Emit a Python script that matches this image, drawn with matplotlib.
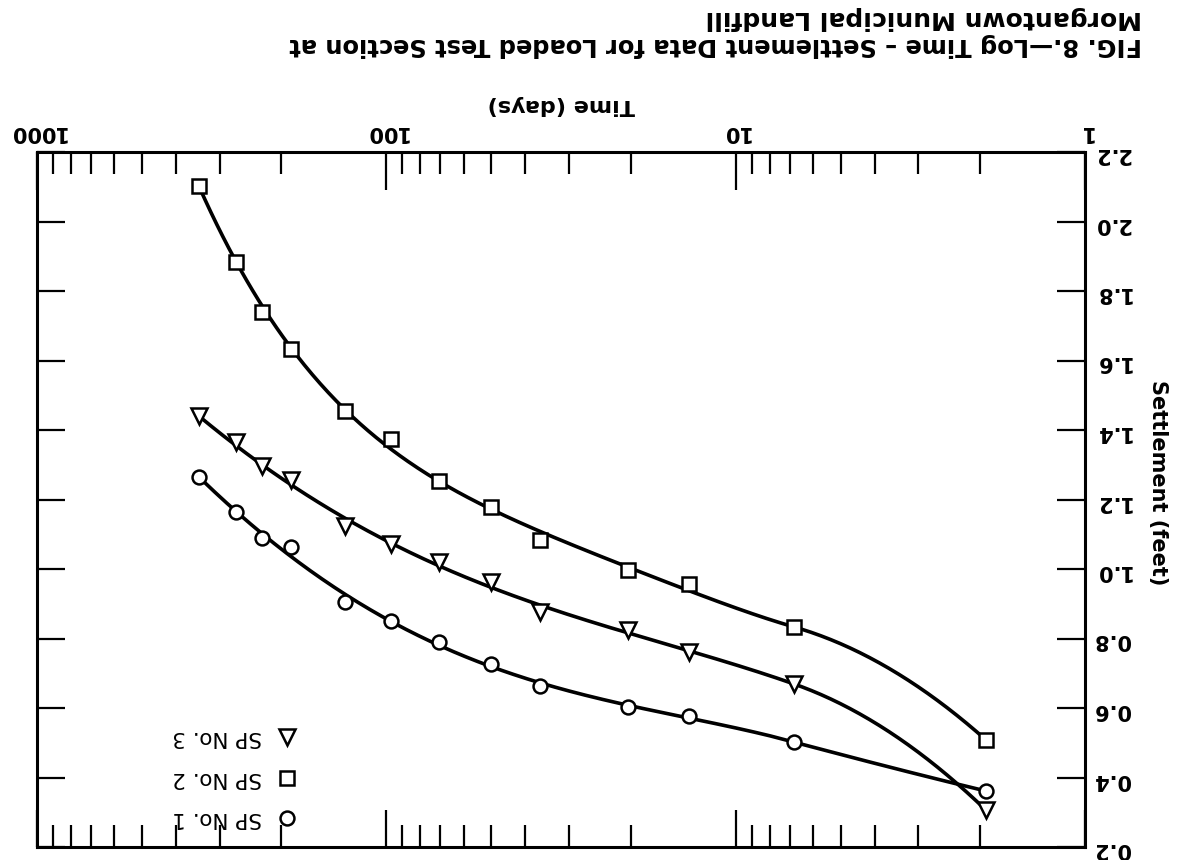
import numpy as np
import matplotlib
matplotlib.use("Agg")
import matplotlib.pyplot as plt
from matplotlib.ticker import NullFormatter, FixedLocator, LogLocator

# ---------------- data ----------------
time_days = [1.92, 6.8, 13.6, 20.3, 36.3, 50.2, 70.7, 97, 131, 188, 227, 269, 344]
sp1 = [0.361, 0.502, 0.577, 0.603, 0.663, 0.727, 0.790, 0.850, 0.905, 1.063, 1.089, 1.164, 1.265]
sp2 = [0.508, 0.833, 0.957, 0.997, 1.083, 1.178, 1.253, 1.374, 1.455, 1.633, 1.740, 1.883, 2.102]
sp3 = [0.306, 0.669, 0.761, 0.824, 0.876, 0.963, 1.020, 1.072, 1.124, 1.256, 1.296, 1.365, 1.440]
series_names = ["SP No. 1", "SP No. 2", "SP No. 3"]
x_ticks = [1, 10, 100, 1000]
x_tick_labels = ["1", "10", "100", "1000"]
y_ticks = [0.2, 0.4, 0.6, 0.8, 1.0, 1.2, 1.4, 1.6, 1.8, 2.0, 2.2]
y_tick_labels = ["0.2", "0.4", "0.6", "0.8", "1.0", "1.2", "1.4", "1.6", "1.8", "2.0", "2.2"]
title_line1 = "FIG. 8.\u2014Log Time \u2013 Settlement Data for Loaded Test Section at"
title_line2 = "Morgantown Municipal Landfill"


def smooth_curve(t, v):
    """Hand-drawn-like trend line: smooth fit over the later readings plus a
    quadratic lead-in segment from the first reading."""
    lx = np.log10(t)
    v = np.asarray(v, float)
    w = np.ones(len(lx) - 1)
    w[0] = w[-1] = 6.0
    coef = np.polyfit(lx[1:], v[1:], 4, w=w)
    dcoef = np.polyder(coef)
    xs_main = np.linspace(lx[1], lx[-1], 300)
    ys_main = np.polyval(coef, xs_main)
    x0, x1 = lx[0], lx[1]
    y0, y1 = v[0], np.polyval(coef, x1)
    m1 = np.polyval(dcoef, x1)
    chord = (y1 - y0) / (x1 - x0)
    m0 = 2 * chord - m1
    s = np.linspace(0, 1, 80)
    h = x1 - x0
    h00 = 2 * s**3 - 3 * s**2 + 1
    h10 = s**3 - 2 * s**2 + s
    h01 = -2 * s**3 + 3 * s**2
    h11 = s**3 - s**2
    xs_lead = x0 + s * h
    ys_lead = h00 * y0 + h10 * h * m0 + h01 * y1 + h11 * h * m1
    xs = np.concatenate([xs_lead, xs_main[1:]])
    ys = np.concatenate([ys_lead, ys_main[1:]])
    return 10 ** xs, ys


plt.rcParams['font.family'] = ['DejaVu Sans']

fig = plt.figure(figsize=(11.84, 8.6), dpi=100)
ax = fig.add_axes([37 / 1184, 1 - 847 / 860, (1085 - 37) / 1184, (847 - 152) / 860])

markers = ['o', 's', 'v']
msizes = [10, 10, 11]
for vals, mk, ms in zip([sp1, sp2, sp3], markers, msizes):
    cx, cy = smooth_curve(time_days, vals)
    ax.plot(cx, cy, color='black', lw=2.6, zorder=2, solid_capstyle='round')
    ax.plot(time_days, vals, linestyle='none', marker=mk, ms=ms, mfc='white',
            mec='black', mew=1.8, zorder=3)

ax.set_xscale('log')
ax.set_xlim(1000, 1)
ax.set_ylim(0.2, 2.2)

ax.xaxis.set_major_locator(FixedLocator(x_ticks))
ax.set_xticklabels(x_tick_labels)
ax.xaxis.set_minor_locator(LogLocator(base=10, subs=np.arange(2, 10)))
ax.xaxis.set_minor_formatter(NullFormatter())
ax.set_yticks(y_ticks)
ax.set_yticklabels(y_tick_labels)

ax.tick_params(axis='x', which='both', direction='in', top=True, bottom=True,
               labeltop=True, labelbottom=False, width=1.6)
ax.tick_params(axis='x', which='major', length=27, pad=7)
ax.tick_params(axis='x', which='minor', length=16)
ax.tick_params(axis='y', which='both', direction='in', left=True, right=True,
               labelleft=False, labelright=True, length=20, width=1.6, pad=6)
ax.tick_params(labelsize=15, labelrotation=180)
for lab in ax.get_xticklabels() + ax.get_yticklabels():
    lab.set_fontweight('bold')

for sp in ax.spines.values():
    sp.set_linewidth(2.2)

ax.xaxis.set_label_position('top')
ax.set_xlabel("Time (days)", fontsize=16, fontweight='bold', rotation=180, labelpad=8)
ax.yaxis.set_label_position('right')
ax.set_ylabel("Settlement (feet)", fontsize=15, fontweight='bold', rotation=270)
ax.yaxis.set_label_coords(1.079, 0.524)

# manual legend (upside-down, like the reference)
leg_x = (287 - 37) / 1048
leg_tx = (262 - 37) / 1048
leg_y = [(847 - 818) / 695, (847 - 778) / 695, (847 - 737) / 695]
for name, mk, ms, yy in zip(series_names, markers, msizes, leg_y):
    ax.plot([leg_x], [yy], transform=ax.transAxes, marker=mk, ms=ms, mfc='white',
            mec='black', mew=1.8, linestyle='none', clip_on=False, zorder=4)
    ax.text(leg_tx, yy, name, transform=ax.transAxes, rotation=180, ha='right',
            va='center', fontsize=15.5)

fig.text(1142 / 1184, 1 - 45 / 860, title_line1, rotation=180, ha='right', va='center',
         fontsize=17.4, fontweight='bold')
fig.text(1142 / 1184, 1 - 18 / 860, title_line2, rotation=180, ha='right', va='center',
         fontsize=18, fontweight='bold')

fig.savefig("out.png", dpi=100)
